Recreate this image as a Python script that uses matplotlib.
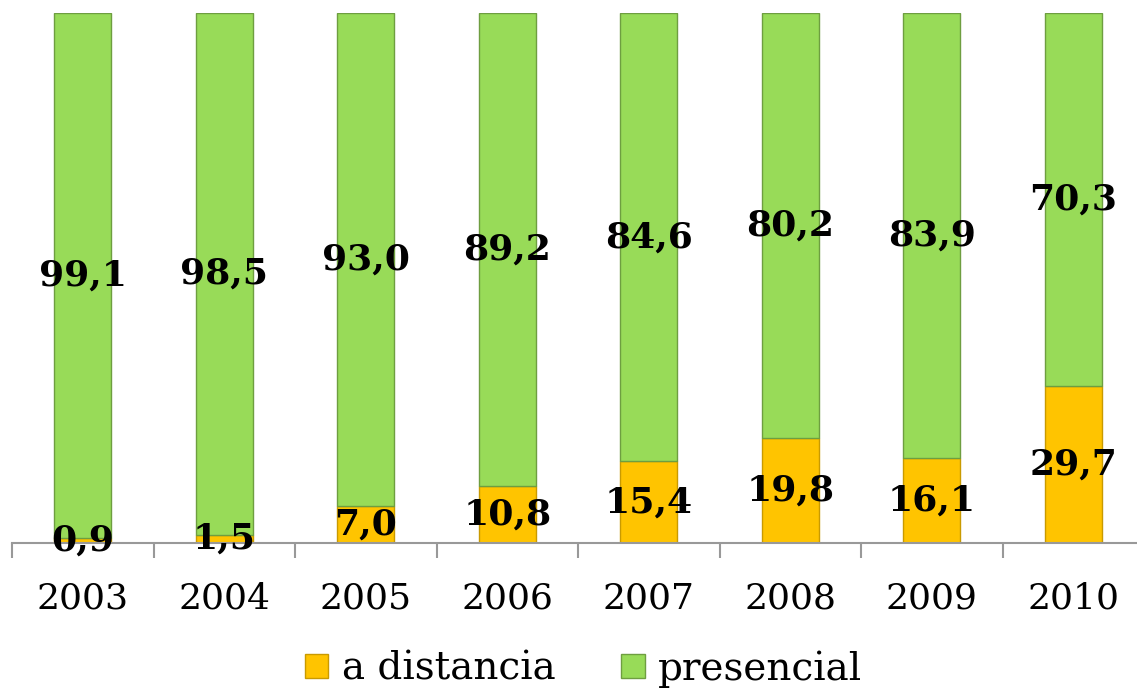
import matplotlib
matplotlib.use("Agg")
import matplotlib.pyplot as plt
import numpy as np

years = ["2003", "2004", "2005", "2006", "2007", "2008", "2009", "2010"]
a_distancia = [0.9, 1.5, 7.0, 10.8, 15.4, 19.8, 16.1, 29.7]
presencial = [99.1, 98.5, 93.0, 89.2, 84.6, 80.2, 83.9, 70.3]

W, H = 1137, 695
fig = plt.figure(figsize=(W / 100, H / 100), dpi=100)
ax = fig.add_axes([12 / W, (H - 543) / H, 8 * 141.5 / W, 530 / H])

x = np.arange(len(years))
yellow = "#FFC400"
green = "#98DB58"
bw = 0.40
b1 = ax.bar(x, a_distancia, width=bw, color=yellow, edgecolor="#C99A00", linewidth=1.0, label="a distancia")
b2 = ax.bar(x, presencial, width=bw, bottom=a_distancia, color=green, edgecolor="#6E9E40", linewidth=1.0, label="presencial")

lab_font = dict(family="DejaVu Serif", fontweight="bold", fontsize=26, color="black")
for i in range(len(years)):
    ax.text(x[i], a_distancia[i] / 2, f"{a_distancia[i]:.1f}".replace(".", ","),
            ha="center", va="center", **lab_font)
    ax.text(x[i], a_distancia[i] + presencial[i] / 2, f"{presencial[i]:.1f}".replace(".", ","),
            ha="center", va="center", **lab_font)

ax.set_xlim(-0.5, len(years) - 0.5)
ax.set_ylim(0, 100)
for s in ["top", "right", "left"]:
    ax.spines[s].set_visible(False)
ax.spines["bottom"].set_color("#999999")
ax.spines["bottom"].set_linewidth(1.5)
ax.set_yticks([])
ax.set_xticks(x)
ax.set_xticklabels(years, family="DejaVu Serif", fontsize=26)
ax.tick_params(axis="x", which="major", length=0, pad=28)
ax.set_xticks(np.arange(-0.5, len(years)), minor=True)
ax.tick_params(axis="x", which="minor", length=11, width=1.5, color="#999999")

leg = fig.legend(handles=[b1, b2], labels=["a distancia", "presencial"],
                 loc="center", bbox_to_anchor=(0.5 + 15 / W, (H - 669) / H), ncol=2, frameon=False,
                 prop=dict(family="DejaVu Serif", size=28), handlelength=0.6, handleheight=0.6,
                 handletextpad=0.35, columnspacing=1.7)

fig.savefig("out.png", dpi=100)
